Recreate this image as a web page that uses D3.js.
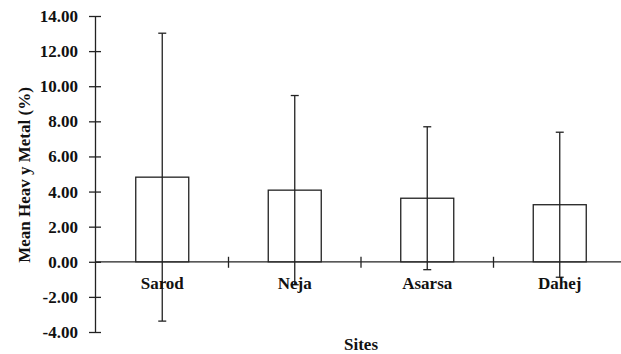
<!DOCTYPE html>
<html>
<head>
<meta charset="utf-8">
<script src="https://cdn.jsdelivr.net/npm/d3@7"></script>
<style>
  html, body { margin: 0; padding: 0; background: #fff; }
  svg { display: block; }
</style>
</head>
<body>
<svg id="chart" width="621" height="354"></svg>
<script>
// Mean heavy metal content by site, with standard deviation
const sites = ["Sarod", "Neja", "Asarsa", "Dahej"];
const means = [4.82, 4.08, 3.62, 3.25];
const sds = [8.20, 5.39, 4.07, 4.13];
const yTicks = [-4, -2, 0, 2, 4, 6, 8, 10, 12, 14];

const svg = d3.select("#chart");
const ink = "#222";
const fontFamily = "Liberation Serif";
const fontSize = 17;

const x = d3.scaleBand().domain(sites).range([96, 626]).paddingInner(0).paddingOuter(0);
const y = d3.scaleLinear().domain([-4, 14]).range([332, 16]);
const barW = x.bandwidth() * 0.4;

function styleText(sel) {
  return sel.attr("font-family", fontFamily).attr("font-weight", "bold")
    .attr("font-size", fontSize).attr("fill", "#111");
}

// y axis
const yAxis = d3.axisLeft(y).tickValues(yTicks).tickFormat(d => d.toFixed(2))
  .tickSizeInner(6).tickSizeOuter(0).tickPadding(11);
const gy = svg.append("g").attr("transform", "translate(95,0)").call(yAxis);
gy.select(".domain").attr("stroke", ink).attr("stroke-width", 1.3);
gy.selectAll(".tick line").attr("x1", 6).attr("stroke", ink).attr("stroke-width", 1.3);
styleText(gy.selectAll(".tick text"));

// x axis baseline at zero with ticks between categories
const y0 = y(0);
svg.append("line").attr("x1", 95).attr("x2", 621).attr("y1", y0).attr("y2", y0)
  .attr("stroke", ink).attr("stroke-width", 1.3);
svg.selectAll("line.xtick").data(sites.slice(1)).enter().append("line")
  .attr("class", "xtick")
  .attr("x1", d => x(d)).attr("x2", d => x(d))
  .attr("y1", y0 - 5).attr("y2", y0 + 6)
  .attr("stroke", ink).attr("stroke-width", 1.3);

// bars
const cx = d => x(d) + x.bandwidth() / 2;
svg.selectAll("rect.bar").data(sites).enter().append("rect")
  .attr("class", "bar")
  .attr("x", d => cx(d) - barW / 2)
  .attr("width", barW)
  .attr("y", (d, i) => y(means[i]))
  .attr("height", (d, i) => y0 - y(means[i]))
  .attr("fill", "#fff").attr("stroke", ink).attr("stroke-width", 1.3);

// error bars
const err = svg.selectAll("g.err").data(sites).enter().append("g").attr("class", "err");
err.append("line")
  .attr("x1", d => cx(d)).attr("x2", d => cx(d))
  .attr("y1", (d, i) => y(means[i] + sds[i]))
  .attr("y2", (d, i) => y(means[i] - sds[i]))
  .attr("stroke", ink).attr("stroke-width", 1.3);
[1, -1].forEach(s => {
  err.append("line")
    .attr("x1", d => cx(d) - 4).attr("x2", d => cx(d) + 4)
    .attr("y1", (d, i) => y(means[i] + s * sds[i]))
    .attr("y2", (d, i) => y(means[i] + s * sds[i]))
    .attr("stroke", ink).attr("stroke-width", 1.3);
});

// category labels
styleText(svg.selectAll("text.cat").data(sites).enter().append("text")
  .attr("class", "cat")
  .attr("x", d => cx(d)).attr("y", 289)
  .attr("text-anchor", "middle")
  .text(d => d));

// axis titles
styleText(svg.append("text").attr("x", 361).attr("y", 350).attr("text-anchor", "middle")
  .text("Sites"));
styleText(svg.append("text")
  .attr("transform", "translate(30,175) rotate(-90)")
  .attr("text-anchor", "middle")
  .text("Mean Heav y Metal (%)"));
</script>
</body>
</html>
